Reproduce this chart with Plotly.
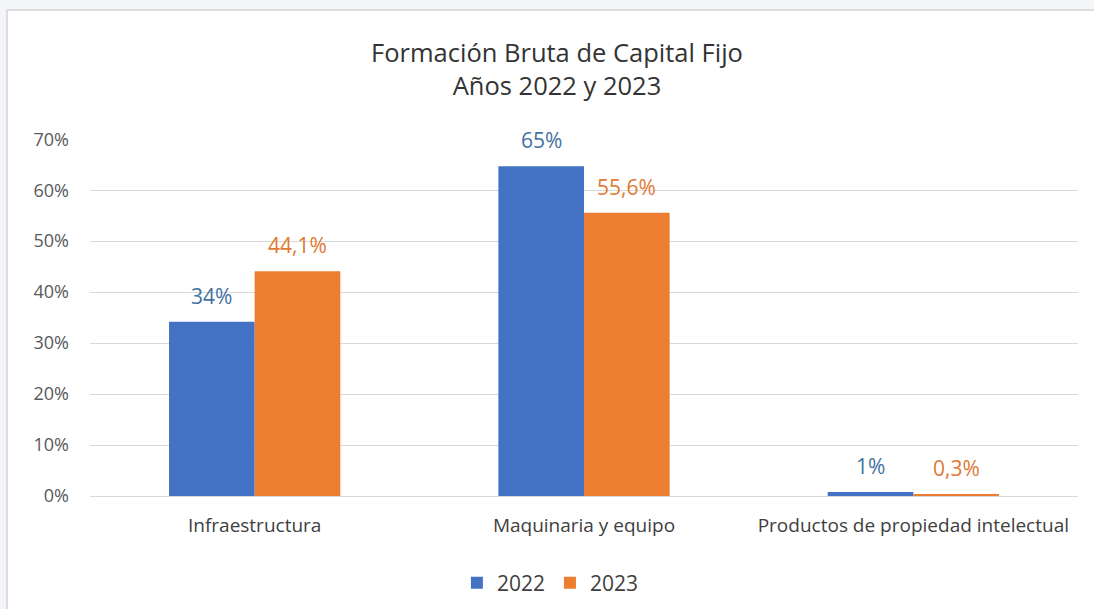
import plotly.graph_objects as go

categories = ["Infraestructura", "Maquinaria y equipo", "Productos de propiedad intelectual"]
series_names = ["2022", "2023"]
values_2022 = [34.2, 64.7, 0.8]
values_2023 = [44.1, 55.6, 0.3]
labels_2022 = ["34%", "65%", "1%"]
labels_2023 = ["44,1%", "55,6%", "0,3%"]
y_ticks = [0, 10, 20, 30, 40, 50, 60, 70]
y_tick_text = [f"{v}%" for v in y_ticks]

bar_colors = ["#4472C4", "#ED7D31"]
label_colors = ["#44719F", "#E07A33"]
FONT = "Open Sans"
BARGAP = 0.48

fig = go.Figure()
for name, vals, col in zip(series_names, [values_2022, values_2023], bar_colors):
    fig.add_trace(go.Bar(x=categories, y=vals, name=name, marker=dict(color=col, line=dict(width=0)),
                         hoverinfo="x+y"))

bar_w = (1 - BARGAP) / len(series_names)
annotations = []
for j, (vals, labs) in enumerate([(values_2022, labels_2022), (values_2023, labels_2023)]):
    for i, (v, t) in enumerate(zip(vals, labs)):
        annotations.append(dict(
            x=i + (j - (len(series_names) - 1) / 2) * bar_w, y=v, xref="x", yref="y",
            text=t, showarrow=False, yanchor="bottom", yshift=10,
            font=dict(family=FONT, size=21, color=label_colors[j])))

fig.update_layout(
    width=1094, height=609,
    margin=dict(l=90, r=16, t=139, b=113, autoexpand=False),
    paper_bgcolor="#f4f5f8",
    plot_bgcolor="rgba(0,0,0,0)",
    barmode="group", bargap=BARGAP, bargroupgap=0,
    title=dict(text="Formación Bruta de Capital Fijo<br>Años 2022 y 2023",
               x=557 / 1094, xanchor="center", xref="container",
               y=1 - 62 / 609, yanchor="top", yref="container",
               font=dict(family=FONT, size=25.5, color="#333333")),
    font=dict(family=FONT, color="#595959"),
    showlegend=True,
    legend=dict(orientation="h", x=0.466, xanchor="center",
                y=1 - 583 / 609, yanchor="middle", yref="container",
                font=dict(family=FONT, size=21, color="#404040"), bgcolor="rgba(0,0,0,0)",
                itemwidth=30, traceorder="normal"),
    annotations=annotations,
    shapes=[dict(type="rect", xref="paper", yref="paper", x0=-83 / 988, x1=1.05,
                 y0=-0.4, y1=(496 - 10) / 357, fillcolor="white",
                 line=dict(color="#d2d4d8", width=1.5), layer="below")],
)
fig.update_yaxes(range=[0, 70.05], tickmode="array", tickvals=y_ticks, ticktext=y_tick_text,
                 showgrid=True, gridcolor="#d9d9d9", gridwidth=1.3,
                 zeroline=True, zerolinecolor="#d9d9d9", zerolinewidth=1.3,
                 showline=False, ticks="", ticklabelstandoff=20, automargin=False,
                 tickfont=dict(family=FONT, size=18, color="#595959"))
fig.update_xaxes(showline=False, ticks="", ticklabelstandoff=16, automargin=False,
                 tickfont=dict(family=FONT, size=19, color="#404040"))

fig.write_html("out.html", config={"displayModeBar": False},
               post_script="document.body.style.margin='0';document.body.style.background='#f4f5f8';")
